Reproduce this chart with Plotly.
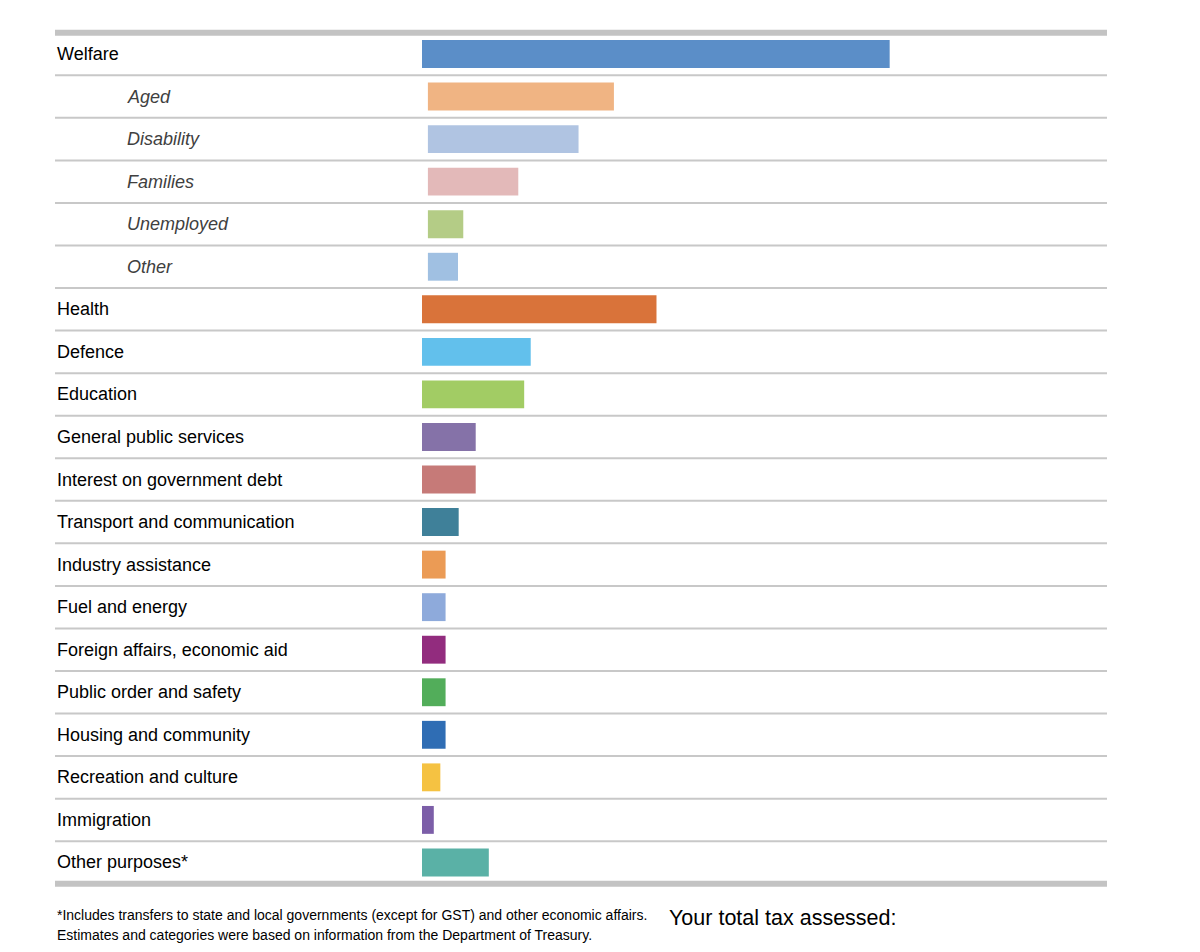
import plotly.graph_objects as go

# ---- data ----
categories = [
    "Welfare", "Aged", "Disability", "Families", "Unemployed", "Other",
    "Health", "Defence", "Education", "General public services",
    "Interest on government debt", "Transport and communication",
    "Industry assistance", "Fuel and energy", "Foreign affairs, economic aid",
    "Public order and safety", "Housing and community", "Recreation and culture",
    "Immigration", "Other purposes*",
]
is_sub = [False, True, True, True, True, True] + [False] * 14
values = [35.7, 14.2, 11.5, 6.9, 2.7, 2.3, 17.9, 8.3, 7.8, 4.1, 4.1, 2.8,
          1.8, 1.8, 1.8, 1.8, 1.8, 1.4, 0.9, 5.1]
colors = ["#5b8ec8", "#f0b483", "#b0c4e2", "#e3b9b9", "#b4cc86", "#a0c0e2",
          "#d9733a", "#62c0ec", "#a2cc64", "#8572a8", "#c67a78", "#3f8099",
          "#eb9b55", "#8eaadb", "#922c7e", "#52ad5a", "#2f6db4", "#f5c242",
          "#7c5ea8", "#5ab1a6"]
footnote_lines = [
    "*Includes transfers to state and local governments (except for GST) and other economic affairs.",
    "Estimates and categories were based on information from the Department of Treasury.",
]
total_label = "Your total tax assessed:"

# ---- layout constants (page body has an 8px margin) ----
OFF = 8
W, H = 1200, 952
PX_PER_UNIT = 13.1
X0_PX = 422 - OFF
SUB_OFFSET = 0.45
ROW0_PX = 54 - OFF
ROW_PX = 42.55
FONT = "Liberation Sans Narrow, Arial Narrow, Liberation Sans, Arial, sans-serif"

n = len(categories)
ys = list(range(n))
bases = [SUB_OFFSET if s else 0 for s in is_sub]

fig = go.Figure(go.Bar(
    x=values, y=ys, base=bases, orientation="h",
    marker=dict(color=colors, line=dict(width=0)),
    width=0.655, hoverinfo="skip",
))

shapes = []
xl, xr = (55 - OFF) / W, (1107 - OFF) / W
for i in range(1, n):
    shapes.append(dict(type="line", xref="paper", yref="y", x0=xl, x1=xr,
                       y0=i - 0.5, y1=i - 0.5, line=dict(color="#c8c8c8", width=2)))
for yy in (-0.5, n - 0.5):
    shapes.append(dict(type="line", xref="paper", yref="y", x0=xl, x1=xr,
                       y0=yy, y1=yy, line=dict(color="#c3c3c3", width=6)))

annotations = []
for i, (c, s) in enumerate(zip(categories, is_sub)):
    annotations.append(dict(
        xref="paper", yref="y", x=((125 if s else 55) - OFF) / W, y=i,
        xanchor="left", yanchor="middle", showarrow=False,
        text=f"<i>{c}</i>" if s else c,
        font=dict(family=FONT, size=18, color="#404040" if s else "#000000"),
    ))
for k, line in enumerate(footnote_lines):
    annotations.append(dict(
        xref="paper", yref="paper", x=(55 - OFF) / W, y=1 - (915 + 20 * k - OFF) / H,
        xanchor="left", yanchor="middle", showarrow=False, text=line,
        font=dict(family=FONT, size=14, color="#000000"),
    ))
annotations.append(dict(
    xref="paper", yref="paper", x=(667 - OFF) / W, y=1 - (918 - OFF) / H,
    xanchor="left", yanchor="middle", showarrow=False, text=total_label,
    font=dict(family=FONT, size=21.5, color="#000000"),
))

fig.update_layout(
    width=W, height=H, margin=dict(l=0, r=0, t=0, b=0),
    paper_bgcolor="white", plot_bgcolor="white", showlegend=False,
    xaxis=dict(range=[-X0_PX / PX_PER_UNIT, (W - X0_PX) / PX_PER_UNIT],
               visible=False, fixedrange=True),
    yaxis=dict(range=[(H - ROW0_PX) / ROW_PX, -ROW0_PX / ROW_PX],
               visible=False, fixedrange=True),
    shapes=shapes, annotations=annotations,
)

fig.write_html("out.html")
